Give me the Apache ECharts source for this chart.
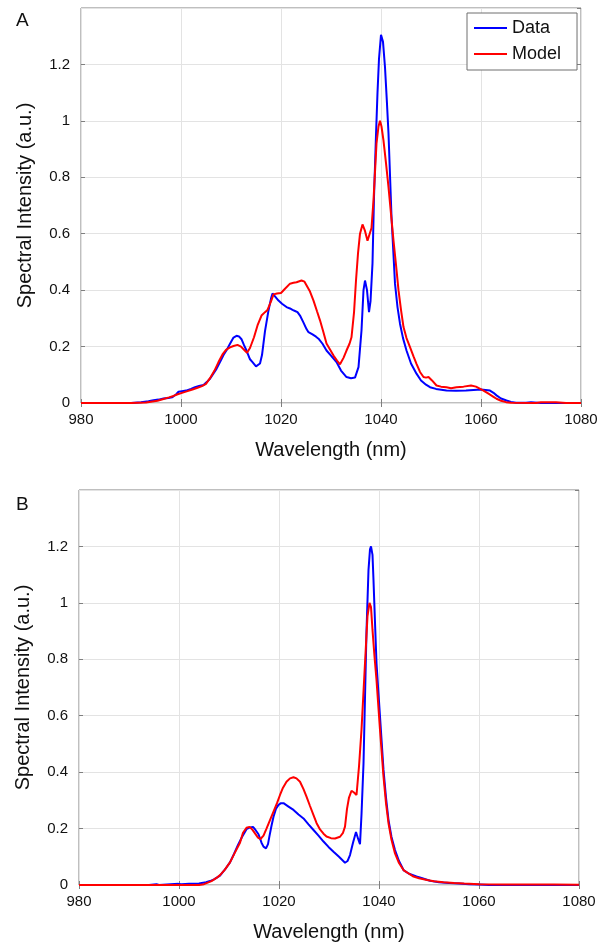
<!DOCTYPE html>
<html lang="en">
<head>
    <meta charset="utf-8">
    <title>Spectra</title>
    <script src="https://cdn.jsdelivr.net/npm/echarts@6/dist/echarts.min.js"></script>
    <style>
        html, body { margin: 0; padding: 0; background: #fff; }
        #main { width: 603px; height: 947px; }
    </style>
</head>
<body>
<div id="main"></div>
<script type="text/javascript">
    // [wavelength nm, intensity a.u.]
    var specA_data = [
        [980,0],[984,0],[984.3,0.006],[984.6,0],[986,0],[986.3,0.005],[986.6,0],[990,0],[992,0.003],
        [993.5,0.006],[994.5,0.01],[995.5,0.012],[996.5,0.016],[997.5,0.018],[998.2,0.02],[999,0.03],
        [999.5,0.04],[1000.2,0.042],[1001,0.044],[1002,0.05],[1002.8,0.056],[1003.6,0.06],[1004.5,0.064],
        [1005.2,0.075],[1005.8,0.086],[1006.5,0.105],[1007.1,0.121],[1007.8,0.145],[1008.5,0.17],
        [1009.2,0.19],[1009.8,0.21],[1010.5,0.232],[1011.1,0.238],[1011.6,0.236],[1012.1,0.226],
        [1012.6,0.205],[1013.1,0.186],[1013.8,0.155],[1014.3,0.145],[1015,0.13],[1015.4,0.128],
        [1015.8,0.14],[1016.2,0.17],[1016.8,0.255],[1017.5,0.328],[1018,0.37],[1018.3,0.388],
        [1018.8,0.378],[1019.5,0.363],[1020.2,0.352],[1021.1,0.34],[1021.8,0.335],[1022.3,0.33],
        [1022.8,0.326],[1023.3,0.322],[1023.8,0.31],[1024.5,0.285],[1025.1,0.262],[1025.5,0.251],
        [1026.3,0.243],[1027,0.235],[1027.5,0.228],[1028.3,0.21],[1029.1,0.186],[1030,0.168],
        [1031.1,0.145],[1032,0.115],[1033.1,0.092],[1034,0.088],[1034.8,0.09],[1035.5,0.127],
        [1036.1,0.257],[1036.5,0.4],[1036.8,0.434],[1037.2,0.4],[1037.6,0.322],[1037.9,0.36],
        [1038.3,0.495],[1038.6,0.73],[1039,0.95],[1039.3,1.1],[1039.6,1.22],[1040,1.305],[1040.4,1.28],
        [1040.8,1.19],[1041.2,1.06],[1041.5,0.955],[1042.1,0.66],[1042.8,0.423],[1043.3,0.34],
        [1043.8,0.281],[1044.4,0.23],[1045.1,0.186],[1046,0.14],[1047.1,0.104],[1048,0.08],[1049,0.065],
        [1049.8,0.056],[1051,0.05],[1053.1,0.044],[1055,0.043],[1057,0.044],[1058.5,0.046],[1060,0.048],
        [1061.8,0.044],[1062.5,0.036],[1063.1,0.027],[1064,0.016],[1065.1,0.009],[1066,0.004],
        [1067,0.001],[1069,0.001],[1070,0.003],[1072,0],[1080,0]
    ];
    var specA_model = [
        [980,0],[990,0],[993,0.002],[995.3,0.008],[996.5,0.014],[997.6,0.02],[998.5,0.025],[999.2,0.03],
        [1000.2,0.036],[1001.3,0.042],[1002.3,0.048],[1003.3,0.054],[1004.2,0.06],[1005,0.068],
        [1005.8,0.088],[1006.7,0.115],[1007.5,0.145],[1008.3,0.172],[1009,0.188],[1009.8,0.197],
        [1010.5,0.202],[1011.3,0.206],[1012,0.2],[1012.7,0.187],[1013.2,0.178],[1013.8,0.195],
        [1014.6,0.233],[1015.3,0.275],[1016.1,0.31],[1016.8,0.322],[1017.3,0.33],[1018,0.36],
        [1018.5,0.385],[1019.2,0.388],[1020,0.39],[1020.8,0.405],[1021.8,0.423],[1022.5,0.426],
        [1023.1,0.428],[1024.1,0.434],[1024.7,0.43],[1025.1,0.423],[1025.8,0.395],[1026.5,0.363],
        [1027.2,0.325],[1027.8,0.293],[1028.5,0.25],[1029.1,0.211],[1029.8,0.19],[1030.5,0.168],
        [1031.2,0.15],[1031.8,0.137],[1032.5,0.16],[1033.1,0.186],[1033.7,0.21],[1034.1,0.233],
        [1034.6,0.32],[1035,0.434],[1035.4,0.53],[1035.8,0.6],[1036.3,0.633],[1036.8,0.61],
        [1037.3,0.575],[1037.7,0.57],[1038.1,0.62],[1038.5,0.718],[1039.1,0.92],[1039.5,0.98],
        [1039.8,1.0],[1040.1,0.98],[1040.5,0.93],[1041,0.85],[1041.5,0.765],[1042,0.67],[1042.5,0.576],
        [1043,0.49],[1043.5,0.4],[1044,0.33],[1044.5,0.269],[1045.1,0.23],[1045.8,0.198],[1046.5,0.165],
        [1047.1,0.139],[1047.8,0.11],[1048.5,0.092],[1049,0.09],[1049.5,0.092],[1050.2,0.08],
        [1051.1,0.062],[1052,0.058],[1053.1,0.056],[1054,0.052],[1055.1,0.056],[1056.5,0.058],
        [1058,0.062],[1059,0.058],[1060.5,0.044],[1061.5,0.033],[1062.5,0.022],[1063.1,0.015],
        [1064,0.008],[1065,0.003],[1066,0.001],[1071,0],[1072,0.003],[1075,0.003],[1077,0],[1080,0]
    ];
    var specB_data = [
        [980,0],[994,0],[995.5,0.003],[996,0],[999.9,0.004],[1000.5,0.003],[1002,0.004],[1004,0.005],
        [1005.4,0.01],[1006.2,0.014],[1007,0.02],[1008.2,0.033],[1009.2,0.055],[1010.2,0.08],[1011,0.11],
        [1011.8,0.142],[1012.6,0.17],[1013.5,0.198],[1014.2,0.204],[1014.8,0.206],[1015.3,0.195],
        [1015.9,0.18],[1016.5,0.15],[1016.9,0.136],[1017.4,0.13],[1017.8,0.145],[1018.1,0.174],
        [1018.5,0.21],[1018.9,0.242],[1019.4,0.27],[1019.9,0.284],[1020.4,0.29],[1020.9,0.29],
        [1021.9,0.278],[1022.9,0.266],[1023.9,0.25],[1024.9,0.236],[1025.9,0.215],[1026.9,0.195],
        [1027.9,0.175],[1028.9,0.154],[1029.9,0.135],[1030.9,0.118],[1032,0.1],[1033.2,0.079],
        [1033.7,0.085],[1034.2,0.106],[1034.8,0.15],[1035.4,0.188],[1035.8,0.165],[1036.2,0.145],
        [1036.5,0.25],[1036.9,0.43],[1037.5,0.9],[1037.9,1.117],[1038.2,1.19],[1038.4,1.2],
        [1038.7,1.17],[1038.9,1.08],[1039.2,0.93],[1039.5,0.786],[1040.2,0.597],[1040.9,0.408],
        [1041.4,0.31],[1041.9,0.23],[1042.5,0.17],[1043.2,0.124],[1044,0.085],[1044.9,0.053],
        [1046,0.04],[1047.5,0.03],[1048.5,0.025],[1050.2,0.015],[1052,0.01],[1054,0.007],[1056,0.005],
        [1058,0.003],[1060,0.002],[1062,0],[1080,0]
    ];
    var specB_model = [
        [980,0],[1004,0],[1005,0.003],[1006.5,0.014],[1007.5,0.025],[1008.2,0.035],[1009.1,0.053],
        [1010.2,0.08],[1011.1,0.112],[1012.2,0.15],[1012.8,0.185],[1013.5,0.203],[1014.1,0.206],
        [1014.6,0.198],[1015.2,0.183],[1015.8,0.168],[1016.3,0.163],[1016.9,0.175],[1017.5,0.2],
        [1018.2,0.23],[1018.9,0.26],[1019.6,0.29],[1020.2,0.319],[1020.8,0.345],[1021.5,0.366],
        [1022.2,0.378],[1022.9,0.382],[1023.5,0.378],[1024.2,0.366],[1024.9,0.34],[1025.5,0.313],
        [1026.2,0.28],[1026.9,0.248],[1027.5,0.22],[1028.2,0.197],[1028.9,0.182],[1029.5,0.172],
        [1030.4,0.166],[1031.2,0.165],[1032.2,0.171],[1032.8,0.185],[1033.2,0.207],[1033.6,0.27],
        [1034,0.31],[1034.5,0.334],[1035,0.328],[1035.5,0.319],[1036,0.42],[1036.5,0.55],[1037.2,0.786],
        [1037.7,0.953],[1038.1,1.0],[1038.4,0.985],[1038.7,0.904],[1039.1,0.81],[1039.5,0.727],
        [1040.2,0.55],[1040.9,0.384],[1041.4,0.29],[1041.9,0.219],[1042.5,0.16],[1043.2,0.112],
        [1044,0.078],[1044.9,0.053],[1046,0.04],[1046.9,0.03],[1048,0.024],[1049.6,0.018],[1051,0.013],
        [1052.9,0.01],[1055,0.007],[1057,0.005],[1060,0.003],[1065,0.002],[1070,0.002],[1075,0.002],
        [1080,0.001]
    ];
    var series_names = ['Data', 'Model'];
    var panel_labels = ['A', 'B'];

    var mainChart = echarts.init(document.getElementById('main'));

    var FONT = '"Liberation Sans", Arial, Helvetica, sans-serif';
    var TXT = '#111';
    var EDGE = '#7f7f7f';
    var GRIDC = '#e3e3e3';

    function mainX(gi) {
        return {
            type: 'value', gridIndex: gi, min: 980, max: 1080, interval: 20,
            name: 'Wavelength (nm)', nameLocation: 'middle', nameGap: 37,
            nameTextStyle: { fontSize: 20, color: TXT, fontFamily: FONT },
            axisLine: { show: false },
            axisTick: { show: true, inside: true, length: 4, lineStyle: { color: EDGE } },
            axisLabel: { fontSize: 15, color: TXT, fontFamily: FONT, margin: 9,
                         formatter: function (v) { return String(v); } },
            splitLine: { show: true, lineStyle: { color: GRIDC, width: 1 } }
        };
    }
    function topX(gi) {
        return {
            type: 'value', gridIndex: gi, position: 'top', min: 980, max: 1080, interval: 20,
            axisLine: { show: false },
            axisTick: { show: true, inside: true, length: 4, lineStyle: { color: EDGE } },
            axisLabel: { show: false }, splitLine: { show: false }
        };
    }
    function mainY(gi) {
        return {
            type: 'value', gridIndex: gi, min: 0, max: 1.4, interval: 0.2,
            name: 'Spectral Intensity (a.u.)', nameLocation: 'middle', nameGap: 46,
            nameTextStyle: { fontSize: 20, color: TXT, fontFamily: FONT },
            axisLine: { show: false },
            axisTick: { show: true, inside: true, length: 4, lineStyle: { color: EDGE } },
            axisLabel: {
                fontSize: 15, color: TXT, fontFamily: FONT, margin: 11, showMaxLabel: false,
                formatter: function (v) { return String(Math.round(v * 10) / 10); }
            },
            splitLine: { show: true, lineStyle: { color: GRIDC, width: 1 } }
        };
    }
    function rightY(gi) {
        return {
            type: 'value', gridIndex: gi, position: 'right', min: 0, max: 1.4, interval: 0.2,
            axisLine: { show: false },
            axisTick: { show: true, inside: true, length: 4, lineStyle: { color: EDGE } },
            axisLabel: { show: false }, splitLine: { show: false }
        };
    }
    function lineSeries(name, data, xi, yi, color) {
        return {
            name: name, type: 'line', xAxisIndex: xi, yAxisIndex: yi, data: data,
            showSymbol: false, symbol: 'none', smooth: false,
            lineStyle: { color: color, width: 2 }, itemStyle: { color: color },
            emphasis: { disabled: true }
        };
    }

    var option = {
        animation: false,
        backgroundColor: '#fff',
        title: [
            { text: panel_labels[0], left: 16, top: 11, padding: 0,
              textStyle: { fontSize: 19, fontWeight: 'normal', color: TXT, fontFamily: FONT } },
            { text: panel_labels[1], left: 16, top: 495, padding: 0,
              textStyle: { fontSize: 19, fontWeight: 'normal', color: TXT, fontFamily: FONT } }
        ],
        legend: {
            data: series_names, orient: 'vertical', left: 467, top: 13,
            padding: [6, 16, 7, 7], itemGap: 8, itemWidth: 33, itemHeight: 2, icon: 'rect',
            backgroundColor: '#fff', borderColor: '#6f6f6f', borderWidth: 1,
            selectedMode: false,
            textStyle: { fontSize: 18, color: TXT, fontFamily: FONT }
        },
        grid: [
            { left: 81, top: 8, width: 500, height: 395, show: true, borderColor: EDGE, borderWidth: 1, backgroundColor: '#fff' },
            { left: 79, top: 490, width: 500, height: 395, show: true, borderColor: EDGE, borderWidth: 1, backgroundColor: '#fff' }
        ],
        xAxis: [mainX(0), topX(0), mainX(1), topX(1)],
        yAxis: [mainY(0), rightY(0), mainY(1), rightY(1)],
        series: [
            lineSeries(series_names[0], specA_data, 0, 0, '#0000ff'),
            lineSeries(series_names[1], specA_model, 0, 0, '#ff0000'),
            lineSeries(series_names[0], specB_data, 2, 2, '#0000ff'),
            lineSeries(series_names[1], specB_model, 2, 2, '#ff0000')
        ]
    };
    mainChart.setOption(option);
</script>
</body>
</html>
